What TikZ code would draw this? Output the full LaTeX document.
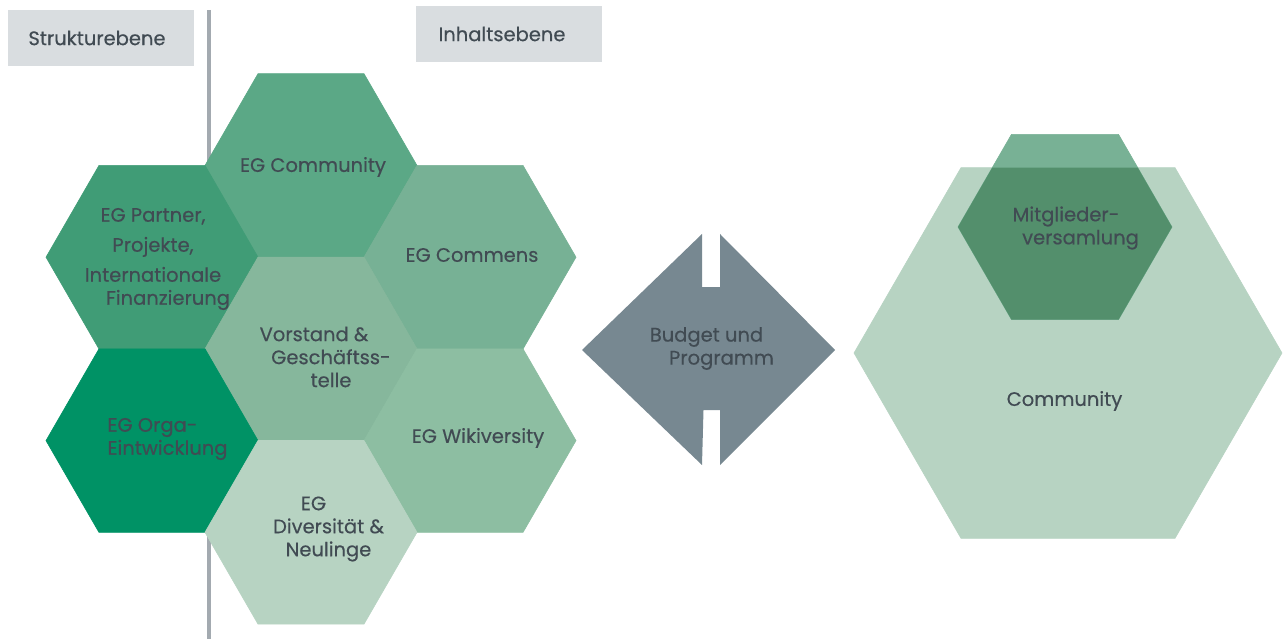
\documentclass[tikz,border=0pt]{standalone}
\usepackage{fontspec}
\setmainfont{Poppins}[FakeBold=0.4]
\usetikzlibrary{shapes.geometric}
\definecolor{txtgray}{HTML}{414B53}
\definecolor{boxgray}{HTML}{D9DDE0}
\definecolor{linegray}{HTML}{A3AAB0}
\definecolor{rautegray}{HTML}{778891}
\definecolor{gcommunity}{HTML}{5BA886}
\definecolor{gpartner}{HTML}{409C76}
\definecolor{gcommens}{HTML}{77B195}
\definecolor{gvorstand}{HTML}{86B79C}
\definecolor{gorga}{HTML}{009265}
\definecolor{gwiki}{HTML}{8DBEA2}
\definecolor{glight}{HTML}{B7D3C2}
\definecolor{gmitglied}{HTML}{78B195}
\definecolor{gmitglieddark}{HTML}{538F6C}
\tikzset{hexa/.style={regular polygon, regular polygon sides=6, minimum size=212pt,
  inner sep=0pt, outer sep=0pt, fill=#1, draw=#1, line width=0.6pt},
  lbl/.style={text=txtgray, align=center, yshift=-2pt, font=\fontsize{19.5}{23}\selectfont},
  ebene/.style={fill=boxgray, text=txtgray, minimum width=186pt, minimum height=56pt,
  font=\fontsize{19.5}{23}\selectfont}}

\begin{document}
\begin{tikzpicture}[x=1pt,y=-1pt]
      \useasboundingbox (0,0) rectangle (1285,639);

      \coordinate (sep-top) at (209,10);
      \coordinate (sep-bottom) at (209,639);
      \draw [linegray, line width=4pt] (sep-top) -- (sep-bottom);

      \node [ebene] (struktur) at (101,38) {Strukturebene\hspace*{8pt}};
      \node [ebene] (inhalt) at (509,34) {Inhaltsebene\hspace*{14pt}};

      \node [hexa=gcommunity] (eg-community) at (311,165.5) {};
      \node [hexa=gpartner] (eg-partner) at (152,257.2) {};
      \node [hexa=gcommens] (eg-commens) at (470,257.2) {};
      \node [hexa=gvorstand] (vorstand) at (311,348.9) {};
      \node [hexa=gorga] (eg-orga) at (152,440.6) {};
      \node [hexa=gwiki] (eg-wiki) at (470,440.6) {};
      \node [hexa=glight] (eg-divers) at (311,532.3) {};

      \node [lbl] (t-community) at (313,165) {EG Community};
      \node [lbl] (t-partner) at (153,257) {EG Partner,\\[7pt]Projekte,\\[7pt]Internationale\\\hspace*{30pt}Finanzierung};
      \node [lbl] (t-commens) at (472,253) {EG Commens};
      \node [lbl] (t-vorstand) at (314,355) {Vorstand \&\\\hspace*{34pt}Geschäftss-\\\hspace*{34pt}telle};
      \node [lbl] (t-orga) at (152.5,437) {EG Orga-\\\hspace*{30pt}Eintwicklung};
      \node [lbl] (t-wiki) at (478,436) {EG Wikiversity};
      \node [lbl] (t-divers) at (313.5,527) {EG\\\hspace*{30pt}Diversität \&\\\hspace*{30pt}Neulinge};

      \fill [rautegray] (582,350) -- (702,234) -- (702,287) -- (720,287) -- (720,234) -- (835,350)
        -- (720,465) -- (720,410) -- (703.5,410) -- (702,465) -- cycle;
      \node [lbl] (t-budget) at (706.5,346.5) {Budget und\\\hspace*{30pt}Programm};

      \node [hexa=glight, minimum size=428pt] (community) at (1068,353) {};
      \node [hexa=gmitglied, minimum size=214pt] (mitglieder) at (1065,227) {};
      \begin{scope}
        \clip (community.corner 1) -- (community.corner 2) -- (community.corner 3)
          -- (community.corner 4) -- (community.corner 5) -- (community.corner 6) -- cycle;
        \fill [gmitglieddark] (mitglieder.corner 1) -- (mitglieder.corner 2) -- (mitglieder.corner 3)
          -- (mitglieder.corner 4) -- (mitglieder.corner 5) -- (mitglieder.corner 6) -- cycle;
      \end{scope}
      \node [lbl] (t-mitglieder) at (1066,226) {Mitglieder-\\\hspace*{29pt}versamlung};
      \node [lbl] (t-community-big) at (1064.5,399) {Community};
\end{tikzpicture}
\end{document}
